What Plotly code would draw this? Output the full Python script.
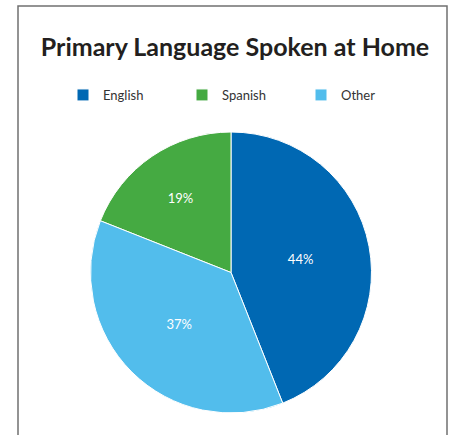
import plotly.graph_objects as go

labels = ["English", "Spanish", "Other"]
values = [44, 19, 37]
colors = ["#0068B3", "#45AA42", "#52BDEC"]

W, H = 454, 435


def px(x):
    return x / W


def py(y):
    return 1 - y / H


cx, cy, r = 231, 272.5, 140.5

fig = go.Figure(go.Pie(
    labels=labels,
    values=values,
    marker=dict(colors=colors, line=dict(color="white", width=1)),
    sort=False,
    direction="counterclockwise",
    rotation=0,
    textinfo="percent",
    texttemplate="%{percent:.0%}",
    textposition="inside",
    insidetextorientation="horizontal",
    insidetextfont=dict(color="white", size=13, family="Lato"),
    hoverinfo="label+percent",
    domain=dict(x=[px(cx - r), px(cx + r)],
                y=[py(cy + r), py(cy - r)]),
))

fig.update_layout(
    width=W, height=H,
    margin=dict(l=0, r=0, t=0, b=0),
    paper_bgcolor="white",
    plot_bgcolor="white",
    font=dict(family="Lato", color="#333333"),
    title=dict(text="<b>Primary Language Spoken at Home</b>",
               x=px(235), xanchor="center",
               y=py(47), yanchor="middle",
               font=dict(family="Lato", size=25, color="#231f20")),
    showlegend=True,
    legend=dict(orientation="h", x=px(63), xanchor="left",
                y=py(95), yanchor="middle",
                font=dict(family="Lato", size=13, color="#333333"),
                entrywidth=74, entrywidthmode="pixels",
                bgcolor="rgba(0,0,0,0)", traceorder="normal"),
    shapes=[dict(type="rect", xref="paper", yref="paper",
                 x0=px(18), x1=px(447), y0=-0.05, y1=py(6),
                 line=dict(color="#707070", width=1.5),
                 fillcolor="rgba(0,0,0,0)", layer="below")],
)

fig.write_html(
    "out.html",
    config={"displayModeBar": False},
    post_script="document.body.style.margin='0';document.body.style.overflow='hidden';",
)
